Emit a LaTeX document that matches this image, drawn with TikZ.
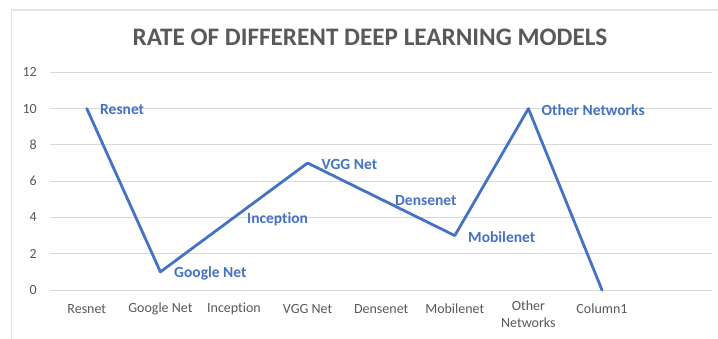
\documentclass[tikz,border=0pt]{standalone}
\usepackage{fontspec}
\setmainfont{Carlito}[RawFeature={-liga;-clig;-calt;-dlig}]
\definecolor{serblue}{HTML}{4472C4}
\definecolor{txtgray}{HTML}{595959}
\definecolor{gridgray}{HTML}{D9D9D9}
\definecolor{framegray}{HTML}{E3E3E3}
\begin{document}
\begin{tikzpicture}[x=1pt,y=-1pt,
  gridline/.style={draw=gridgray,line width=1pt},
  ticklbl/.style={anchor=east,text=txtgray,font=\fontsize{14}{16}\selectfont,inner sep=0pt},
  catlbl/.style={anchor=center,text=txtgray,font=\fontsize{14}{17}\selectfont,inner sep=0pt,align=center},
  datalbl/.style={anchor=west,text=serblue,font=\fontsize{15.5}{18}\bfseries\selectfont,inner sep=0pt},
  series/.style={draw=serblue,line width=2.8pt,line join=round,line cap=round}]
\useasboundingbox (0,0) rectangle (718,338);
\fill[white] (0,0) rectangle (718,338);
\draw[framegray,line width=1.2pt] (11.5,345) -- (11.5,10) -- (725,10);
% title
\node[text=txtgray,font=\fontsize{25.2}{28}\bfseries\selectfont,inner sep=0pt,anchor=base] (title) at (370,45.7) {RATE OF DIFFERENT DEEP LEARNING MODELS};
% gridlines and tick labels
\foreach \v in {0,2,...,12}{
  \draw[gridline] (50,{290-18.14*\v}) -- (712,{290-18.14*\v});
  \node[ticklbl] (t\v) at (37,{290-18.14*\v}) {\v};
}
% category labels
\node[catlbl] (c1) at (86.8,309) {Resnet};
\node[catlbl] (c2) at (160.4,309) {Google Net};
\node[catlbl] (c3) at (234,309) {Inception};
\node[catlbl] (c4) at (307.6,309) {VGG Net};
\node[catlbl] (c5) at (381.2,309) {Densenet};
\node[catlbl] (c6) at (454.8,309) {Mobilenet};
\node[catlbl,anchor=north] (c7) at (528.4,300.5) {Other\\Networks};
\node[catlbl] (c8) at (602,309) {Column1};
% data points
\coordinate (p1) at (86.8,{290-18.14*10});
\coordinate (p2) at (160.4,{290-18.14*1});
\coordinate (p3) at (234,{290-18.14*4});
\coordinate (p4) at (307.6,{290-18.14*7});
\coordinate (p5) at (381.2,{290-18.14*5});
\coordinate (p6) at (454.8,{290-18.14*3});
\coordinate (p7) at (528.4,{290-18.14*10});
\coordinate (p8) at (602,{290-18.14*0});
\draw[series] (p1) -- (p2) -- (p3) -- (p4) -- (p5) -- (p6) -- (p7) -- (p8);
% data labels
\node[datalbl] (l1) at (100,110) {Resnet};
\node[datalbl] (l2) at (174,273) {Google Net};
\node[datalbl] (l3) at (247,219) {Inception};
\node[datalbl] (l4) at (321.5,164) {VGG Net};
\node[datalbl] (l5) at (395,201) {Densenet};
\node[datalbl] (l6) at (468,237) {Mobilenet};
\node[datalbl] (l7) at (541.5,110) {Other Networks};
\end{tikzpicture}
\end{document}
